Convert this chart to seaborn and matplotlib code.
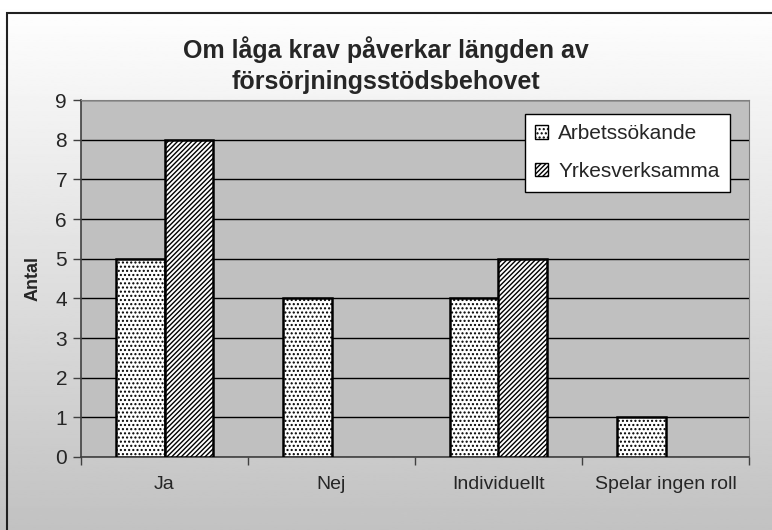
import numpy as np
import pandas as pd
import matplotlib
matplotlib.use("Agg")
import matplotlib.pyplot as plt
import seaborn as sns
from matplotlib.patches import Rectangle, Patch

# data
categories = ["Ja", "Nej", "Individuellt", "Spelar ingen roll"]
arbetssokande = [5, 4, 4, 1]
yrkesverksamma = [8, np.nan, 5, np.nan]
series = ["Arbetssökande", "Yrkesverksamma"]
hatches = ["....", "///////"]

df = pd.DataFrame({
    "kategori": categories * 2,
    "grupp": [series[0]] * 4 + [series[1]] * 4,
    "antal": arbetssokande + yrkesverksamma,
})

sns.set_style("white")
plt.rcParams["font.family"] = ["Liberation Sans", "DejaVu Sans"]
plt.rcParams["hatch.linewidth"] = 1.0

fig = plt.figure(figsize=(7.72, 5.30), dpi=100)

# gradient background of the chart area
bg = fig.add_axes([0, 0, 1, 1], zorder=-2)
grad = np.linspace(1.0, 0.76, 256).reshape(-1, 1)
bg.imshow(grad, aspect="auto", cmap="gray", vmin=0, vmax=1, extent=[0, 1, 0, 1])
bg.set_xlim(0, 1)
bg.set_ylim(0, 1)
bg.axis("off")
bg.add_patch(Rectangle((7 / 772, -0.1), 1.2, 1 - 13 / 530 + 0.1, fill=False,
                       edgecolor="#202020", linewidth=1.5, transform=bg.transAxes))

ax = fig.add_axes([81 / 772, 1 - 457 / 530, 668 / 772, 357 / 530])
ax.set_facecolor("#C0C0C0")

sns.barplot(data=df, x="kategori", y="antal", hue="grupp", order=categories,
            hue_order=series, width=0.575, gap=0, ax=ax, legend=False,
            palette=["white", "white"], edgecolor="black", linewidth=1.8)

for i, cont in enumerate(ax.containers):
    for bar in cont:
        bar.set_hatch(hatches[i])
        bar.set_zorder(3)

ax.set_xlim(-0.5, 3.5)
ax.set_ylim(0, 9)
ax.set_yticks(range(0, 10))
ax.yaxis.grid(True, color="black", linewidth=1)
ax.set_axisbelow(True)
ax.tick_params(axis="y", labelsize=15, length=6, width=1, color="#404040",
               direction="out", left=True, pad=4)
ax.set_xticks(range(4))
ax.set_xticks(np.arange(-0.5, 4, 1), minor=True)
ax.tick_params(axis="x", which="major", length=0, labelsize=14, pad=14)
ax.tick_params(axis="x", which="minor", length=6, width=1, color="#404040",
               direction="out", bottom=True)
ax.set_xlabel("")
ax.set_ylabel("Antal", fontsize=13, fontweight="bold", labelpad=10)

for side in ["top", "right"]:
    ax.spines[side].set_color("#808080")
for side in ["left", "bottom"]:
    ax.spines[side].set_color("#404040")
    ax.spines[side].set_linewidth(1.2)

handles = [Patch(facecolor="white", edgecolor="black", hatch=h, linewidth=1) for h in hatches]
leg = ax.legend(handles, series, loc="upper right",
                bbox_to_anchor=((730 - 81) / 668, 1 - (114 - 100) / 357),
                fontsize=15, frameon=True, fancybox=False, framealpha=1,
                edgecolor="black", handlelength=0.6, handleheight=0.6,
                handletextpad=0.5, borderpad=0.5, labelspacing=0.9, borderaxespad=0)
leg.get_frame().set_linewidth(1)

fig.text(386 / 772, 1 - 50 / 530, "Om låga krav påverkar längden av",
         ha="center", va="center", fontsize=18, fontweight="bold")
fig.text(386 / 772, 1 - 82 / 530, "försörjningsstödsbehovet",
         ha="center", va="center", fontsize=18, fontweight="bold")

fig.savefig("out.png", dpi=100)
